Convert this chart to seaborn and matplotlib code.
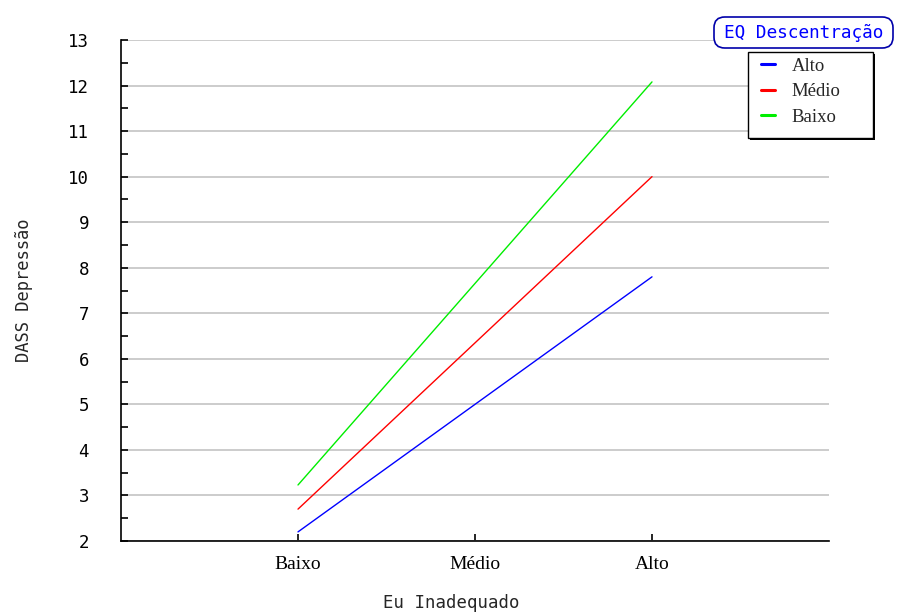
import matplotlib
matplotlib.use("Agg")
import matplotlib.pyplot as plt
from matplotlib.lines import Line2D
from matplotlib.patches import Rectangle, FancyBboxPatch
from matplotlib.ticker import MultipleLocator
import matplotlib.patheffects as pe
import seaborn as sns
import pandas as pd

# Levels of the predictor (x) and of the moderator (lines)
x_levels = ["Baixo", "Médio", "Alto"]
moderator_levels = ["Alto", "Médio", "Baixo"]

# Predicted DASS Depressão at low and high Eu Inadequado
x_points = ["Baixo", "Alto"]
alto_values = [2.20, 7.80]
medio_values = [2.70, 10.00]
baixo_values = [3.23, 12.08]

line_colors = {"Alto": "#0000ff", "Médio": "#ff0000", "Baixo": "#00ee00"}

series = {"Alto": alto_values, "Médio": medio_values, "Baixo": baixo_values}
rows = []
for level in moderator_levels:
    for xp, val in zip(x_points, series[level]):
        rows.append({"x": x_levels.index(xp), "y": val, "EQ": level})
df = pd.DataFrame(rows)

sns.set_style("white")
mono = ["DejaVu Sans Mono"]
serif = ["Liberation Serif", "DejaVu Serif"]

W, H = 897, 612
fig = plt.figure(figsize=(W / 100, H / 100), dpi=100)
ax = fig.add_axes([121 / W, 71 / H, 708 / W, 501 / H])

sns.lineplot(data=df, x="x", y="y", hue="EQ", hue_order=moderator_levels,
             palette=line_colors, linewidth=1.0, legend=False, ax=ax,
             zorder=3)

ax.set_xlim(-1, 3)
ax.set_ylim(2, 13)

# horizontal grid
ax.yaxis.set_major_locator(MultipleLocator(1))
ax.yaxis.set_minor_locator(MultipleLocator(0.5))
ax.grid(axis="y", which="major", color="#c8c8c8", linewidth=1.3, zorder=0)
ax.grid(axis="x", visible=False)

for side in ["top", "right"]:
    ax.spines[side].set_visible(False)
for side in ["left", "bottom"]:
    ax.spines[side].set_color("black")
    ax.spines[side].set_linewidth(1.2)

ax.set_xticks(range(len(x_levels)))
ax.set_xticklabels(x_levels, fontfamily=serif, fontsize=14)
ax.tick_params(axis="x", direction="in", length=5, width=1.2, pad=11,
               colors="black", bottom=True)
ax.set_yticks(range(2, 14))
ax.set_yticklabels([str(v) for v in range(2, 14)], fontfamily=mono, fontsize=12.5)
ax.tick_params(axis="y", which="both", direction="in", length=5, width=1.2,
               pad=23, colors="black", left=True)

ax.set_xlabel("Eu Inadequado", fontfamily=mono, fontsize=12.5)
ax.xaxis.set_label_coords(0.467, -0.105)
ax.set_ylabel("DASS Depressão", fontfamily=mono, fontsize=12.3)
ax.yaxis.set_label_coords(-0.124, 0.5)


def fig_box(x0, y0, x1, y1):
    """Pixel box (top-left origin) to figure-fraction rectangle."""
    return x0 / W, 1 - y1 / H, (x1 - x0) / W, (y1 - y0) / H


# legend frame with a hard drop shadow
lx, ly, lw, lh = fig_box(748, 52, 873, 138)
frame = Rectangle((lx, ly), lw, lh, transform=fig.transFigure, facecolor="white",
                  edgecolor="black", linewidth=1.0, zorder=4,
                  path_effects=[pe.withSimplePatchShadow(offset=(1.2, -1.2),
                                                         shadow_rgbFace="black",
                                                         alpha=1)])
fig.patches.append(frame)

handles = [Line2D([0], [0], color=line_colors[l], linewidth=2.2) for l in moderator_levels]
leg = fig.legend(handles, moderator_levels, loc="upper left",
                 bbox_to_anchor=(757 / W, 1 - 54 / H),
                 bbox_transform=fig.transFigure,
                 prop={"family": serif, "size": 13.5},
                 frameon=False, handlelength=0.75, handletextpad=0.9,
                 labelspacing=0.45, borderpad=0.2, borderaxespad=0)
leg.set_zorder(5)

# legend title in a rounded box
tx, ty, tw, th = fig_box(714, 17, 893, 48)
title_box = FancyBboxPatch((tx, ty), tw, th, transform=fig.transFigure,
                           boxstyle="round,pad=0,rounding_size=0.012",
                           mutation_aspect=W / H,
                           facecolor="white", edgecolor="#0000aa", linewidth=1.2,
                           zorder=6)
fig.patches.append(title_box)
fig.text((714 + 893) / 2 / W, 1 - 33 / H, "EQ Descentração", fontfamily=mono,
         fontsize=12.8, color="#0000ff", ha="center", va="center", zorder=7)

fig.savefig("out.png", dpi=100)
